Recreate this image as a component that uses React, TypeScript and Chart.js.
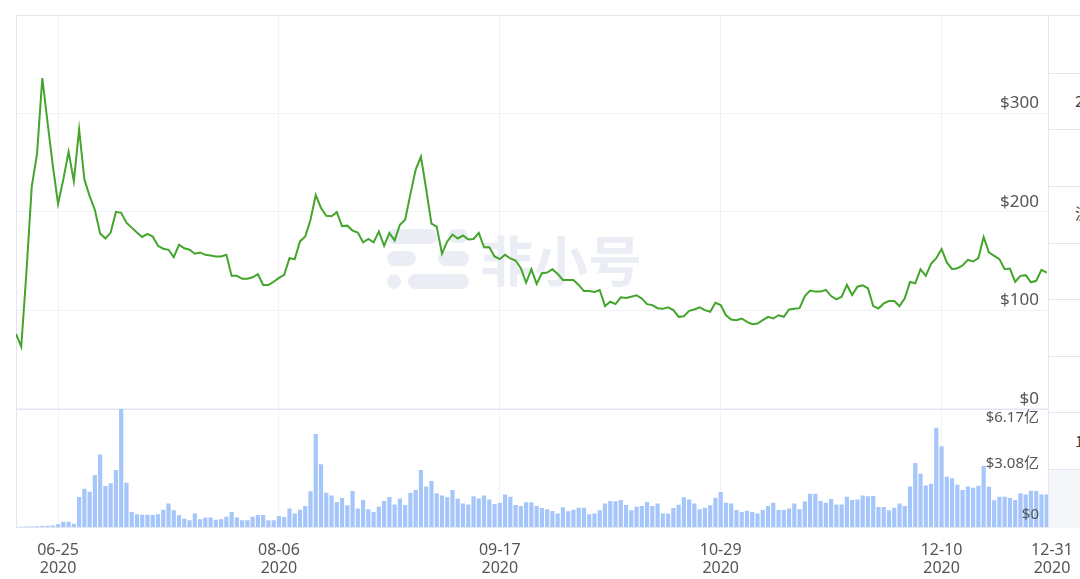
import React, { useEffect, useRef } from "react";
import { Chart, registerables } from "chart.js";

Chart.register(...registerables);

// Day index 0 = 2020-06-17
const X_TICK_DAYS = [8, 50, 92, 134, 176, 197];
const X_TICK_LABELS = [
  ["06-25", "2020"],
  ["08-06", "2020"],
  ["09-17", "2020"],
  ["10-29", "2020"],
  ["12-10", "2020"],
  ["12-31", "2020"],
];
const PRICE_TICKS = [0, 100, 200, 300, 400];
const VOLUME_TICKS = [0, 3.085, 6.17];
const VOLUME_TICK_LABELS = ["$0", "$3.08亿", "$6.17亿"];

// Price in USD, one per day
const PRICE = [
  76, 63, 140, 226, 259, 336, 291, 247, 208, 233, 261, 231, 284, 233, 216, 202, 178, 173, 179, 200,
  199, 189, 184, 179, 174.5, 177.6, 175, 165.6, 162.6, 161.5, 154, 166.7, 163, 161.5, 157.5, 158.8, 156.4, 155.7, 154.7, 154.7,
  156.4, 135, 135, 132, 132, 133.6, 136.7, 125.8, 125.8, 129, 133, 136, 153, 152, 170, 175, 192, 217, 204, 196,
  195.6, 199.7, 185.4, 186, 181, 179, 169, 172.5, 169, 180, 165.6, 178.6, 171, 187, 192, 218, 243, 256, 223, 188,
  185, 157.5, 170, 177, 173, 176, 172, 172.5, 178.6, 164, 164, 154.7, 152, 156.4, 152.7, 150.6, 142.8, 128, 141.8, 126.8,
  137.7, 138.4, 141.8, 137, 130.9, 130.9, 130.9, 125.8, 119.6, 119.6, 118.6, 120.7, 104.3, 108.7, 106.3, 113.2, 112.5, 113.8, 115.2, 112.1,
  106.3, 105.3, 102.2, 101.5, 103, 100.2, 93.4, 94, 99.5, 100.9, 103, 100.2, 98.5, 107.7, 105.3, 95, 90.7, 90, 91.7, 88.2,
  85.9, 86.6, 90, 93.4, 91.7, 95, 93.4, 100.9, 101.5, 102.2, 114.5, 120, 119, 119, 120.7, 114.5, 111.1, 113.8, 125.8, 115.5,
  124, 125.4, 122.4, 104.3, 101.9, 107, 109.4, 109.4, 104.3, 112.1, 128.8, 127.5, 141.8, 135, 147.2, 153, 162.3, 148.6, 141.8, 142.8,
  145.5, 151.3, 149.6, 153, 174.5, 158.8, 155.4, 152, 141.8, 142.4, 129, 135, 135.7, 128.5, 130, 141.1, 138.4,
];

// Daily volume in 亿 USD
const VOLUME = [
  0.01, 0.01, 0.02, 0.03, 0.04, 0.05, 0.06, 0.08, 0.14, 0.28, 0.28, 0.17, 1.56, 2.0, 1.84, 2.71, 3.79, 2.14, 2.28, 2.97,
  6.17, 2.31, 0.78, 0.66, 0.64, 0.64, 0.63, 0.66, 0.9, 1.22, 0.87, 0.61, 0.43, 0.35, 0.7, 0.4, 0.49, 0.49, 0.38, 0.4,
  0.54, 0.78, 0.5, 0.35, 0.35, 0.54, 0.63, 0.63, 0.35, 0.35, 0.57, 0.52, 0.96, 0.71, 0.9, 1.09, 1.86, 4.85, 3.27, 1.79,
  1.65, 1.3, 1.51, 1.13, 1.88, 0.96, 1.41, 0.92, 0.78, 1.06, 1.36, 1.56, 1.18, 1.49, 1.15, 1.79, 1.93, 2.97, 2.12, 2.4,
  1.76, 1.65, 1.55, 1.93, 1.48, 1.23, 1.18, 1.6, 1.49, 1.65, 1.43, 1.2, 1.27, 1.7, 1.58, 1.15, 1.09, 1.29, 1.29, 1.09,
  0.99, 0.92, 0.83, 0.71, 1.03, 0.82, 0.9, 1.01, 1.01, 0.66, 0.71, 0.87, 1.23, 1.36, 1.34, 1.41, 1.15, 0.87, 1.06, 1.09,
  1.3, 1.09, 1.23, 0.71, 0.71, 0.99, 1.16, 1.55, 1.44, 1.23, 0.92, 1.01, 1.13, 1.53, 1.83, 1.27, 1.23, 0.89, 0.78, 0.85,
  0.78, 0.71, 0.89, 1.09, 1.27, 0.89, 0.89, 0.96, 1.23, 0.92, 1.34, 1.74, 1.74, 1.36, 1.27, 1.46, 1.18, 1.18, 1.58, 1.41,
  1.44, 1.65, 1.6, 1.62, 1.04, 1.04, 0.87, 1.01, 1.22, 1.09, 2.12, 3.34, 2.78, 2.17, 2.26, 5.18, 4.21, 2.62, 2.54, 2.21,
  1.93, 2.12, 2.05, 2.15, 3.18, 2.1, 1.39, 1.58, 1.58, 1.51, 1.41, 1.76, 1.69, 1.89, 1.88, 1.7, 1.7,
];

const WATERMARK_TEXT = "非小号";
// Cut-off text of the neighbouring table (only the left edge is visible)
const SIDE_TEXTS = ["2", "流", "1"];
const SIDE_TEXT_ROWS = [100, 212, 440];

const FONT = "'Noto Sans', 'Noto Sans CJK SC', sans-serif";
const LINE_COLOR = "#43a52b";
const BAR_COLOR = "#a5c6fa";
const GRID_COLOR = "#f1f2f7";
const FRAME_COLOR = "#e3e5f1";
const TEXT_COLOR = "#555555";

function pill(ctx: CanvasRenderingContext2D, x1: number, y1: number, x2: number, y2: number) {
  const r = (y2 - y1) / 2;
  ctx.beginPath();
  ctx.moveTo(x1 + r, y1);
  ctx.lineTo(x2 - r, y1);
  ctx.arc(x2 - r, y1 + r, r, -Math.PI / 2, Math.PI / 2);
  ctx.lineTo(x1 + r, y2);
  ctx.arc(x1 + r, y1 + r, r, Math.PI / 2, (3 * Math.PI) / 2);
  ctx.closePath();
  ctx.fill();
}

const decorPlugin = {
  id: "decor",
  beforeDatasetsDraw(chart: any) {
    const { ctx, chartArea } = chart;
    const ySc = chart.scales.y;
    ctx.save();
    // watermark logo + text
    ctx.fillStyle = "#eaedf3";
    pill(ctx, 387, 229, 437, 244);
    pill(ctx, 448, 229, 468, 243);
    pill(ctx, 387, 251, 416, 266);
    pill(ctx, 438, 251, 469, 266);
    pill(ctx, 387, 274, 401, 289);
    pill(ctx, 408, 274, 469, 289);
    ctx.font = "bold 54px 'Noto Sans CJK SC'";
    ctx.textAlign = "left";
    ctx.textBaseline = "middle";
    ctx.fillText(WATERMARK_TEXT, 480, 261);
    // frame lines
    ctx.strokeStyle = FRAME_COLOR;
    ctx.lineWidth = 1;
    ctx.beginPath();
    ctx.moveTo(Math.round(chartArea.left) + 0.5, chartArea.top);
    ctx.lineTo(Math.round(chartArea.left) + 0.5, chartArea.bottom);
    ctx.moveTo(chartArea.left, Math.round(ySc.bottom) + 0.5);
    ctx.lineTo(chartArea.right, Math.round(ySc.bottom) + 0.5);
    ctx.moveTo(chartArea.left, Math.round(chartArea.top) + 0.5);
    ctx.lineTo(chartArea.right, Math.round(chartArea.top) + 0.5);
    ctx.stroke();
    ctx.restore();
  },
  afterDatasetsDraw(chart: any) {
    const { ctx, chartArea } = chart;
    const y2 = chart.scales.y2;
    ctx.save();
    ctx.fillStyle = TEXT_COLOR;
    ctx.font = `15px ${FONT}`;
    ctx.textAlign = "right";
    const max = VOLUME_TICKS[VOLUME_TICKS.length - 1];
    VOLUME_TICKS.forEach((v, i) => {
      let py = y2.getPixelForValue(v);
      if (v === max) {
        ctx.textBaseline = "top";
        py += 1;
      } else if (v === 0) {
        ctx.textBaseline = "bottom";
        py -= 5;
      } else {
        ctx.textBaseline = "middle";
        py -= 4;
      }
      ctx.fillText(VOLUME_TICK_LABELS[i], chartArea.right - 13, py);
    });
    ctx.restore();
  },
};

export default function App() {
  const ref = useRef<HTMLCanvasElement | null>(null);

  useEffect(() => {
    if (!ref.current) return;
    Chart.defaults.font.family = FONT;
    const priceData = PRICE.map((v, i) => ({ x: i, y: v }));
    const volumeData = VOLUME.map((v, i) => ({ x: i, y: v }));
    const zeroPad = (s: any) => {
      s.paddingTop = 0;
      s.paddingBottom = 0;
      s.paddingLeft = 0;
      s.paddingRight = 0;
    };
    const chart = new Chart(ref.current, {
      type: "bar",
      data: {
        datasets: [
          {
            type: "line",
            data: priceData,
            yAxisID: "y",
            xAxisID: "x",
            borderColor: LINE_COLOR,
            borderWidth: 2,
            pointRadius: 0,
            tension: 0,
            order: 0,
          } as any,
          {
            type: "bar",
            data: volumeData,
            yAxisID: "y2",
            xAxisID: "x",
            backgroundColor: BAR_COLOR,
            barPercentage: 0.8,
            categoryPercentage: 1,
            order: 1,
          } as any,
        ],
      },
      options: {
        responsive: false,
        animation: false,
        devicePixelRatio: 1,
        layout: { padding: { left: 16, right: 28, top: 15, bottom: 0 } },
        plugins: { legend: { display: false }, tooltip: { enabled: false } },
        scales: {
          x: {
            type: "linear",
            min: 0,
            max: 197,
            offset: false,
            position: "bottom",
            afterBuildTicks: (s: any) => {
              s.ticks = X_TICK_DAYS.map((v) => ({ value: v }));
            },
            afterFit: (s: any) => {
              zeroPad(s);
              s.height = 52;
            },
            ticks: {
              autoSkip: false,
              maxRotation: 0,
              padding: 14,
              color: TEXT_COLOR,
              font: { size: 16, lineHeight: 1.15 },
              callback: (v: any) => {
                const i = X_TICK_DAYS.indexOf(Number(v));
                return i >= 0 ? X_TICK_LABELS[i] : "";
              },
            },
            grid: { color: GRID_COLOR, drawTicks: false, offset: false },
            border: { color: FRAME_COLOR },
          },
          y: {
            type: "linear",
            position: "right",
            stack: "panes",
            stackWeight: 393,
            min: 0,
            max: 400,
            afterBuildTicks: (s: any) => {
              s.ticks = PRICE_TICKS.map((v) => ({ value: v }));
            },
            afterFit: (s: any) => {
              zeroPad(s);
              s.width = 0;
            },
            ticks: {
              mirror: true,
              padding: -13,
              labelOffset: -10,
              color: TEXT_COLOR,
              font: { size: 17 },
              callback: (v: any) => (Number(v) === 400 ? "" : "$" + v),
            },
            grid: { color: GRID_COLOR, drawTicks: false },
            border: { display: false },
          },
          y2: {
            type: "linear",
            position: "right",
            stack: "panes",
            stackWeight: 118,
            min: 0,
            max: 6.17,
            afterFit: (s: any) => {
              zeroPad(s);
              s.width = 0;
            },
            ticks: { display: false },
            grid: { display: false },
            border: { display: false },
          },
        },
      } as any,
      plugins: [decorPlugin],
    });
    return () => chart.destroy();
  }, []);

  const rowLines = [72, 128, 185, 242, 298, 355, 411, 468, 527];

  return (
    <div
      style={{
        position: "absolute",
        left: 0,
        top: 0,
        width: 1080,
        height: 579,
        overflow: "hidden",
        background: "#fff",
      }}
    >
      <canvas ref={ref} width={1080} height={579} style={{ position: "absolute", left: 0, top: 0 }} />
      <div
        style={{
          position: "absolute",
          left: 1048,
          top: 15,
          width: 40,
          height: 512,
          borderLeft: `1px solid ${FRAME_COLOR}`,
          borderTop: `1px solid ${FRAME_COLOR}`,
          background: "#fff",
          overflow: "hidden",
        }}
      >
        <div style={{ position: "absolute", left: 0, top: 468 - 15, width: 40, height: 59, background: "#f5f6fa" }} />
        {rowLines.map((y) => (
          <div
            key={y}
            style={{ position: "absolute", left: 0, top: y - 15, width: 40, height: 1, background: FRAME_COLOR }}
          />
        ))}
        {SIDE_TEXTS.map((t, i) => (
          <div
            key={t}
            style={{
              position: "absolute",
              left: 26,
              top: SIDE_TEXT_ROWS[i] - 15 - 10,
              fontFamily: "'Noto Sans CJK SC', sans-serif",
              fontSize: 15,
              lineHeight: "20px",
              color: "#444",
              whiteSpace: "nowrap",
            }}
          >
            {t}
          </div>
        ))}
      </div>
    </div>
  );
}
